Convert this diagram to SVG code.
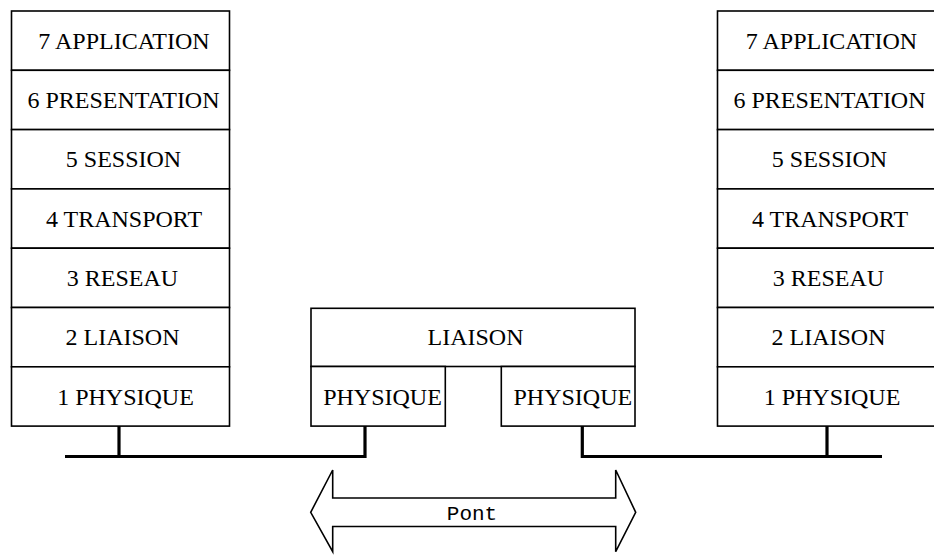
<svg xmlns="http://www.w3.org/2000/svg" width="934" height="556" viewBox="0 0 934 556">
  <style>
    .box { fill: #fff; stroke: #000; stroke-width: 1.6; }
    .lbl { font-family: "Liberation Serif", "Times New Roman", serif; font-size: 24px; fill: #000; text-anchor: middle; }
    .mono { font-family: "Liberation Mono", "Courier New", monospace; font-size: 21px; fill: #000; text-anchor: middle; }
    .wire { fill: none; stroke: #000; stroke-width: 3.2; }
    .arrow { fill: #fff; stroke: #000; stroke-width: 1.6; stroke-linejoin: miter; }
  </style>
  <rect width="934" height="556" fill="#fff"/>

  <!-- left OSI stack -->
  <g id="stack-left">
    <rect class="box" x="11.5" y="11" width="218" height="59.3"/>
    <rect class="box" x="11.5" y="70.3" width="218" height="59.3"/>
    <rect class="box" x="11.5" y="129.6" width="218" height="59.3"/>
    <rect class="box" x="11.5" y="188.9" width="218" height="59.3"/>
    <rect class="box" x="11.5" y="248.2" width="218" height="59.3"/>
    <rect class="box" x="11.5" y="307.5" width="218" height="59.3"/>
    <rect class="box" x="11.5" y="366.8" width="218" height="59.3"/>
    <text class="lbl" x="124" y="48.5">7 APPLICATION</text>
    <text class="lbl" x="123.5" y="108">6 PRESENTATION</text>
    <text class="lbl" x="123.5" y="167.3">5 SESSION</text>
    <text class="lbl" x="124" y="226.6">4 TRANSPORT</text>
    <text class="lbl" x="122.5" y="286">3 RESEAU</text>
    <text class="lbl" x="122.5" y="345.2">2 LIAISON</text>
    <text class="lbl" x="125.5" y="404.5">1 PHYSIQUE</text>
  </g>

  <!-- right OSI stack -->
  <g id="stack-right">
    <rect class="box" x="717.5" y="11" width="218" height="59.3"/>
    <rect class="box" x="717.5" y="70.3" width="218" height="59.3"/>
    <rect class="box" x="717.5" y="129.6" width="218" height="59.3"/>
    <rect class="box" x="717.5" y="188.9" width="218" height="59.3"/>
    <rect class="box" x="717.5" y="248.2" width="218" height="59.3"/>
    <rect class="box" x="717.5" y="307.5" width="218" height="59.3"/>
    <rect class="box" x="717.5" y="366.8" width="218" height="59.3"/>
    <text class="lbl" x="831.5" y="48.5">7 APPLICATION</text>
    <text class="lbl" x="829.5" y="108">6 PRESENTATION</text>
    <text class="lbl" x="829.5" y="167.3">5 SESSION</text>
    <text class="lbl" x="830" y="226.6">4 TRANSPORT</text>
    <text class="lbl" x="828.5" y="286">3 RESEAU</text>
    <text class="lbl" x="828.5" y="345.2">2 LIAISON</text>
    <text class="lbl" x="832" y="404.5">1 PHYSIQUE</text>
  </g>

  <!-- bridge -->
  <g id="bridge">
    <rect class="box" x="311" y="308.3" width="324" height="58.2"/>
    <rect class="box" x="311" y="366.5" width="134.3" height="59.6"/>
    <rect class="box" x="501.3" y="366.5" width="133.7" height="59.6"/>
    <text class="lbl" x="475.5" y="345">LIAISON</text>
    <text class="lbl" x="382.5" y="404.5">PHYSIQUE</text>
    <text class="lbl" x="572.8" y="404.5">PHYSIQUE</text>
  </g>

  <!-- network segments -->
  <g id="connectors">
    <path class="wire" d="M65 456.5 H365 V426"/>
    <path class="wire" d="M119 426 V456.5"/>
    <path class="wire" d="M882 456.5 H582.3 V426"/>
    <path class="wire" d="M827 426 V456.5"/>
  </g>

  <!-- double-headed arrow -->
  <g id="pont">
    <path class="arrow" d="M310.7 512.3 L332.7 470 V498 H615.7 V470 L635.7 512.3 L615.7 551.7 V526.5 H332.7 V551.7 Z"/>
    <text class="mono" x="472" y="519.5">Pont</text>
  </g>
</svg>
